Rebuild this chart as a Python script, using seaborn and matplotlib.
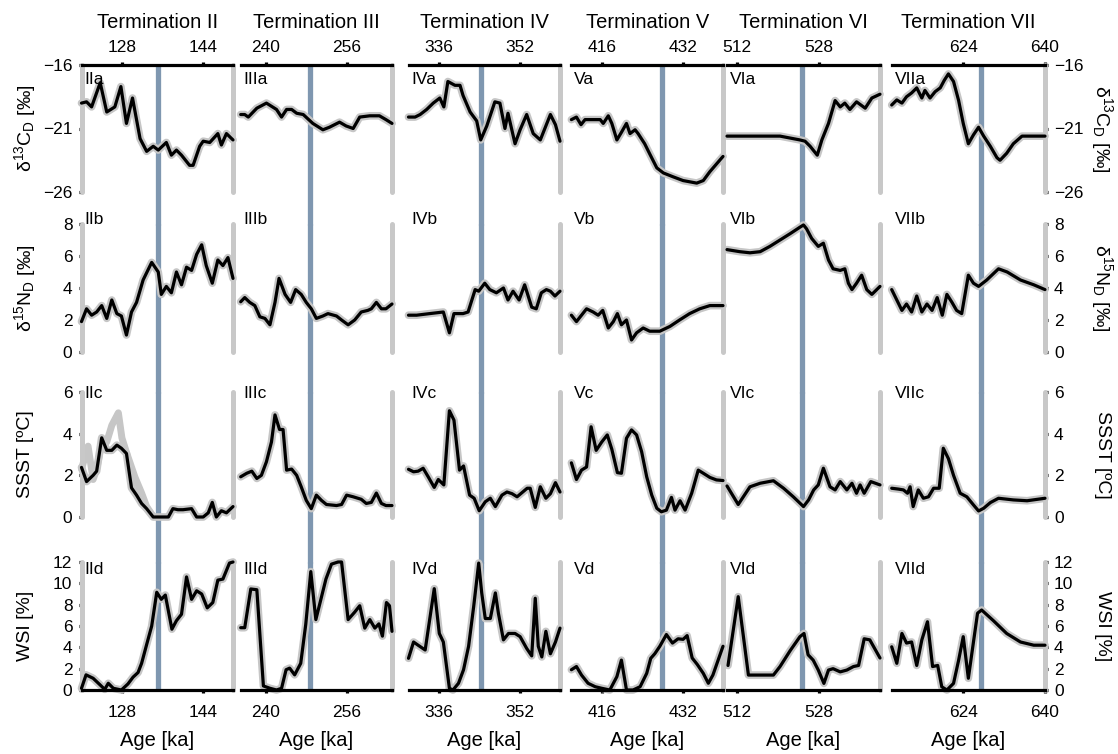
import numpy as np
import pandas as pd
import matplotlib
matplotlib.use("Agg")
import matplotlib.pyplot as plt
from matplotlib.ticker import MultipleLocator, FixedLocator
import seaborn as sns

sns.set_theme(style="white")
plt.rcParams["font.family"] = ["Liberation Sans", "DejaVu Sans"]
plt.rcParams["mathtext.default"] = "regular"
plt.rcParams.update({"text.color": "black", "axes.labelcolor": "black",
                     "xtick.color": "black", "ytick.color": "black"})

# ---------------- data ----------------
terminations = ["II", "III", "IV", "V", "VI", "VII"]
titles = ["Termination II", "Termination III", "Termination IV",
          "Termination V", "Termination VI", "Termination VII"]
age_ranges = [(120, 150), (235, 265), (330, 360), (410, 440), (510, 540), (610, 640)]
termination_ages = [135.2, 248.8, 344.3, 427.9, 524.8, 627.4]

variables = ["d13C", "d15N", "SSST", "WSI"]
letters = ["a", "b", "c", "d"]
y_limits = [(-26, -16), (0, 8), (0, 6), (0, 12)]
y_ticks = [[-26, -21, -16], [0, 2, 4, 6, 8], [0, 2, 4, 6], [0, 2, 4, 6, 8, 10, 12]]
y_labels = [r"$\delta^{13}C_{D}$ [‰]", r"$\delta^{15}N_{D}$ [‰]", "SSST [ºC]", "WSI [%]"]

# --- delta 13C (row a)
d13c_age_II = [120.0, 121.0, 122.0, 123.7, 125.0, 126.6, 127.8, 128.9, 130.1, 131.6, 132.9, 134.2, 135.2,
               136.8, 137.8, 138.8, 139.8, 141.4, 142.1, 143.4, 144.1, 145.4, 147.0, 147.7, 148.7, 150.0]
d13c_II = [-19.0, -18.9, -19.3, -17.4, -19.7, -19.3, -17.7, -20.6, -18.6, -21.8, -22.8, -22.4, -22.7,
           -22.1, -23.1, -22.7, -23.1, -23.9, -23.9, -22.4, -22.0, -22.1, -21.4, -22.3, -21.4, -21.9]
d13c_age_III = [235.0, 235.8, 236.5, 238.2, 240.1, 242.1, 243.1, 244.1, 245.1, 246.1, 247.4, 249.3, 251.3,
                252.6, 254.6, 255.9, 257.3, 258.6, 260.6, 262.5, 263.8, 265.0]
d13c_III = [-19.9, -19.9, -20.1, -19.4, -19.0, -19.5, -20.1, -19.5, -19.5, -19.8, -19.9, -20.6, -21.1,
            -20.9, -20.5, -20.8, -21.0, -20.1, -20.0, -20.0, -20.3, -20.6]
d13c_age_IV = [330.0, 331.3, 332.3, 333.6, 334.9, 336.2, 337.0, 337.8, 339.2, 340.2, 340.8, 342.2, 343.5,
               344.3, 345.5, 347.1, 348.1, 349.1, 349.7, 351.1, 352.1, 353.4, 354.7, 356.1, 358.1, 359.1, 360.0]
d13c_IV = [-20.1, -20.1, -19.9, -19.5, -19.0, -18.6, -19.3, -17.3, -17.6, -17.6, -18.4, -19.7, -20.4,
           -21.9, -20.8, -18.9, -19.0, -21.0, -19.8, -22.2, -21.1, -19.9, -21.4, -21.9, -19.9, -20.7, -22.0]
d13c_age_V = [410.0, 411.0, 411.9, 412.7, 414.3, 415.7, 416.3, 417.3, 418.0, 419.0, 419.9, 420.9, 421.6,
              422.6, 423.2, 424.5, 425.5, 426.9, 428.2, 430.1, 432.1, 434.8, 436.1, 437.4, 440.0]
d13c_V = [-20.3, -20.1, -20.7, -20.3, -20.3, -20.3, -20.6, -20.0, -20.6, -21.9, -21.3, -20.6, -21.4,
          -21.1, -21.4, -22.2, -23.0, -24.1, -24.5, -24.8, -25.1, -25.3, -25.1, -24.4, -23.2]
d13c_age_VI = [510.0, 512.5, 516.5, 520.4, 524.3, 525.3, 526.3, 527.7, 528.6, 529.2, 529.9, 531.2, 532.2,
               533.1, 534.1, 535.4, 537.1, 538.4, 540.0]
d13c_VI = [-21.6, -21.6, -21.6, -21.6, -21.9, -22.0, -22.4, -23.1, -21.9, -21.3, -20.6, -18.8, -19.3,
           -19.0, -19.5, -18.9, -19.4, -18.6, -18.3]
d13c_age_VII = [610.0, 611.0, 612.0, 612.9, 613.9, 614.9, 615.9, 616.5, 617.5, 618.5, 619.5, 620.3, 621.1,
                622.1, 623.1, 624.0, 625.0, 626.0, 627.0, 628.0, 629.3, 630.6, 631.2, 632.5, 633.8, 635.5,
                637.8, 640.0]
d13c_VII = [-19.15, -18.75, -19.0, -18.5, -18.2, -17.8, -18.6, -18.0, -18.6, -18.1, -17.8, -17.2, -16.7,
            -17.3, -18.8, -20.6, -22.2, -21.5, -20.9, -21.6, -22.4, -23.3, -23.5, -22.95, -22.2, -21.6,
            -21.6, -21.6]

# --- delta 15N (row b)
d15n_age_II = [120.0, 121.0, 122.0, 123.0, 124.0, 125.0, 126.0, 127.0, 127.9, 128.9, 129.9, 130.9, 132.2,
               133.9, 135.2, 135.8, 136.8, 137.8, 138.8, 139.8, 140.8, 141.8, 142.8, 143.8, 144.7, 145.9,
               147.0, 148.0, 149.0, 150.0]
d15n_II = [1.9, 2.7, 2.3, 2.5, 2.9, 2.1, 3.25, 2.4, 2.25, 1.06, 2.5, 3.1, 4.5, 5.6, 5.0, 3.6, 4.1, 3.7,
           5.0, 4.2, 5.3, 5.1, 6.1, 6.7, 5.4, 4.3, 5.75, 5.4, 5.9, 4.6]
d15n_age_III = [235.0, 235.8, 236.8, 237.8, 238.8, 239.8, 240.8, 241.8, 242.6, 243.8, 244.9, 245.9, 247.0,
                248.0, 249.0, 250.0, 251.3, 252.3, 254.0, 255.0, 256.3, 257.6, 258.9, 260.2, 260.9, 261.9,
                262.9, 263.8, 265.0]
d15n_III = [3.14, 3.4, 3.1, 2.9, 2.2, 2.1, 1.7, 3.1, 4.6, 3.6, 3.1, 3.9, 3.6, 3.1, 2.7, 2.1, 2.25, 2.4,
            2.25, 2.0, 1.7, 2.0, 2.5, 2.6, 2.7, 3.1, 2.7, 2.7, 3.0]
d15n_age_IV = [330.0, 331.6, 334.2, 336.9, 338.1, 339.0, 340.8, 341.8, 343.2, 343.9, 345.1, 346.1, 347.4,
               348.8, 349.7, 350.7, 351.9, 353.0, 354.4, 355.3, 356.3, 357.3, 358.1, 359.0, 360.0]
d15n_IV = [2.3, 2.3, 2.4, 2.5, 1.2, 2.4, 2.4, 2.5, 3.9, 3.8, 4.3, 3.9, 3.7, 4.0, 3.25, 3.8, 3.25, 4.2,
           2.8, 2.7, 3.7, 3.9, 3.8, 3.5, 3.8]
d15n_age_V = [410.0, 411.0, 413.0, 414.3, 415.3, 416.2, 417.3, 418.3, 419.1, 419.9, 420.9, 421.9, 422.9,
              424.2, 425.5, 427.5, 429.5, 431.4, 433.4, 435.4, 437.4, 440.0]
d15n_V = [2.3, 1.9, 2.7, 2.5, 2.3, 2.6, 1.5, 1.9, 2.4, 1.7, 2.0, 0.75, 1.2, 1.5, 1.3, 1.3, 1.6, 2.0,
          2.4, 2.7, 2.9, 2.9]
d15n_age_VI = [510.0, 512.5, 514.5, 516.5, 518.4, 520.4, 522.4, 524.3, 525.0, 525.6, 526.6, 527.9, 528.9,
               529.9, 530.8, 532.2, 533.1, 533.8, 534.5, 535.4, 536.4, 537.4, 538.4, 540.0]
d15n_VI = [6.4, 6.27, 6.2, 6.27, 6.6, 7.0, 7.4, 7.8, 7.94, 7.7, 7.1, 6.6, 6.8, 5.75, 5.2, 5.1, 5.2, 4.3,
           3.9, 4.3, 4.8, 3.9, 3.6, 4.1]
d15n_age_VII = [610.0, 611.0, 612.0, 612.9, 613.9, 614.9, 615.9, 616.9, 617.9, 618.9, 619.9, 620.8, 621.8,
                622.7, 623.7, 625.0, 626.0, 627.0, 628.6, 630.9, 632.6, 635.2, 637.8, 640.0]
d15n_VII = [3.9, 3.25, 2.6, 3.0, 2.5, 3.5, 2.5, 3.0, 2.6, 3.4, 2.3, 3.6, 3.1, 2.6, 2.4, 4.8, 4.3, 4.1,
            4.5, 5.2, 5.0, 4.5, 4.2, 3.9]

# --- SSST (row c)
ssst_age_II = [120.0, 121.0, 122.3, 123.0, 124.0, 125.0, 126.0, 127.0, 127.9, 128.9, 129.9, 130.9, 131.9,
               132.9, 134.2, 136.2, 137.2, 138.1, 139.1, 140.1, 141.8, 142.8, 144.1, 145.1, 145.9, 146.7,
               147.7, 148.7, 150.0]
ssst_II = [2.38, 1.7, 2.0, 2.2, 3.8, 3.2, 3.2, 3.45, 3.3, 3.05, 1.4, 1.05, 0.65, 0.4, 0.0, 0.0, 0.0, 0.4,
           0.35, 0.35, 0.4, 0.0, 0.0, 0.2, 0.7, 0.0, 0.3, 0.2, 0.5]
ssst_age_III = [235.0, 236.2, 237.2, 238.2, 239.1, 240.1, 241.1, 241.8, 242.7, 243.4, 244.1, 245.1, 246.1,
                247.0, 248.0, 249.0, 250.0, 251.0, 252.0, 254.0, 255.0, 256.0, 257.3, 258.9, 259.9, 260.9,
                261.9, 262.9, 263.8, 265.0]
ssst_III = [1.93, 2.1, 2.2, 1.85, 2.0, 2.65, 3.6, 4.9, 4.2, 4.2, 2.25, 2.3, 2.0, 1.45, 0.8, 0.4, 1.05,
            0.8, 0.6, 0.55, 0.6, 1.05, 0.97, 0.85, 0.65, 0.7, 1.15, 0.65, 0.55, 0.55]
ssst_age_IV = [330.0, 331.0, 331.9, 332.9, 333.9, 335.1, 335.9, 337.0, 338.1, 339.0, 340.1, 340.9, 342.1,
               343.0, 344.0, 345.2, 346.2, 347.2, 348.5, 349.5, 350.5, 351.5, 353.5, 354.1, 355.1, 356.1,
               357.2, 358.1, 359.1, 360.0]
ssst_IV = [2.29, 2.17, 2.2, 2.34, 1.93, 1.42, 1.8, 1.54, 5.1, 4.65, 2.25, 2.45, 1.05, 0.9, 0.3, 0.73,
           0.9, 0.5, 1.05, 1.2, 1.12, 0.97, 1.38, 1.38, 0.46, 1.45, 0.9, 1.12, 1.65, 1.2]
ssst_age_V = [410.0, 411.0, 412.0, 413.0, 413.9, 414.9, 416.0, 417.1, 418.0, 419.1, 419.9, 420.9, 421.9,
              422.9, 423.9, 424.9, 425.9, 426.9, 427.8, 428.8, 429.8, 430.5, 431.5, 432.5, 433.8, 435.1,
              436.1, 437.4, 438.7, 440.0]
ssst_V = [2.6, 1.8, 2.25, 2.4, 4.33, 3.2, 3.6, 3.94, 3.25, 2.13, 2.1, 3.78, 4.18, 3.94, 3.13, 1.93, 1.05,
          0.42, 0.25, 0.33, 0.94, 0.33, 0.78, 0.33, 1.14, 2.25, 2.1, 1.9, 1.78, 1.75]
ssst_age_VI = [510.0, 512.2, 514.5, 516.5, 519.1, 521.1, 523.0, 525.0, 526.0, 527.0, 527.9, 528.9, 530.2,
               531.2, 532.2, 533.5, 534.5, 535.4, 536.1, 536.9, 538.2, 540.0]
ssst_VI = [1.49, 0.6, 1.45, 1.62, 1.74, 1.38, 0.97, 0.5, 0.82, 1.3, 1.54, 2.34, 1.45, 1.3, 1.7, 1.3,
           1.62, 1.14, 1.54, 1.14, 1.7, 1.54]
ssst_age_VII = [610.0, 611.3, 612.3, 613.1, 613.6, 614.2, 615.2, 616.2, 617.2, 618.2, 619.3, 620.1, 621.1,
                622.1, 623.4, 624.7, 626.0, 627.0, 628.0, 629.3, 630.9, 633.8, 636.5, 640.0]
ssst_VII = [1.38, 1.34, 1.3, 1.14, 1.45, 0.5, 1.3, 0.9, 0.97, 1.38, 1.38, 3.3, 2.8, 2.0, 1.14, 0.97, 0.58,
            0.29, 0.42, 0.69, 0.9, 0.82, 0.78, 0.9]
# high-resolution (grey) SSST record of Termination II where it departs from the smoothed line
ssst_grey_age_II = [120.0, 121.3, 122.3, 123.0, 124.0, 125.0, 126.0, 127.3, 128.0, 128.9, 130.6, 131.9,
                    132.9, 134.0]
ssst_grey_II = [2.3, 3.4, 1.8, 2.3, 3.5, 3.6, 4.4, 5.0, 3.8, 3.1, 1.9, 1.15, 0.5, 0.1]

# --- WSI (row d)
wsi_age_II = [120.0, 120.9, 122.3, 123.7, 124.6, 125.3, 126.3, 127.9, 129.2, 130.2, 131.2, 131.9, 132.9,
              133.9, 134.9, 135.8, 136.6, 137.9, 138.8, 139.8, 140.8, 141.8, 142.8, 143.8, 144.9, 146.0,
              147.0, 148.0, 149.3, 150.0]
wsi_II = [0.16, 1.42, 1.1, 0.47, 0.06, 0.63, 0.16, 0.0, 0.57, 1.2, 1.64, 2.5, 4.26, 6.0, 9.16, 8.5, 8.9,
          5.7, 6.5, 7.1, 10.6, 8.5, 9.3, 9.0, 7.7, 8.2, 10.3, 10.4, 11.9, 12.0]
wsi_age_III = [235.0, 235.8, 237.0, 238.2, 239.5, 240.8, 242.1, 243.1, 244.0, 244.7, 245.7, 246.9, 247.9,
               248.9, 249.9, 250.9, 251.9, 253.0, 254.3, 255.0, 256.3, 257.6, 258.6, 259.6, 260.6, 261.6,
               262.4, 263.1, 263.9, 264.5, 265.0]
wsi_III = [5.84, 5.84, 9.47, 9.4, 0.38, 0.16, 0.0, 0.16, 1.9, 2.05, 1.42, 2.5, 6.16, 11.1, 6.6, 8.5,
           10.4, 11.8, 12.0, 12.0, 6.6, 7.3, 7.9, 5.8, 6.6, 5.8, 6.2, 5.05, 8.2, 7.9, 5.5]
wsi_age_IV = [330.0, 331.0, 331.9, 333.3, 335.1, 336.1, 336.9, 338.1, 338.8, 339.9, 340.9, 341.9, 342.9,
              343.9, 344.5, 345.2, 346.2, 347.2, 347.8, 348.8, 349.8, 351.1, 352.1, 353.4, 354.4, 355.1,
              355.7, 356.4, 357.2, 358.1, 359.1, 360.0]
wsi_IV = [2.97, 4.5, 4.2, 3.75, 9.5, 5.3, 4.5, 0.16, 0.0, 0.63, 1.9, 4.1, 7.8, 11.9, 9.1, 6.7, 6.7, 9.1,
          7.2, 4.7, 5.3, 5.3, 5.0, 3.9, 3.2, 8.6, 4.1, 3.1, 5.5, 3.4, 4.5, 5.8]
wsi_age_V = [410.0, 411.0, 412.0, 413.3, 414.7, 416.0, 417.6, 419.0, 419.9, 420.9, 422.2, 423.6, 424.9,
             425.7, 426.5, 427.5, 428.8, 430.0, 431.1, 432.1, 432.9, 433.9, 434.9, 436.1, 437.1, 438.0, 440.0]
wsi_V = [1.9, 2.2, 1.4, 0.63, 0.31, 0.16, 0.0, 1.25, 2.8, 0.0, 0.0, 0.31, 1.56, 2.97, 3.4, 4.1, 5.2, 4.4,
         4.8, 4.75, 5.1, 3.0, 2.4, 1.56, 0.63, 1.4, 4.1]
wsi_age_VI = [510.2, 512.2, 514.2, 519.1, 520.4, 522.4, 524.3, 525.1, 525.9, 526.9, 527.9, 529.0, 529.9,
              530.8, 532.2, 533.5, 534.8, 535.8, 536.9, 538.0, 540.0]
wsi_VI = [2.3, 8.75, 1.4, 1.4, 2.2, 3.7, 5.0, 5.3, 3.3, 2.8, 1.87, 0.62, 1.87, 2.0, 1.7, 1.87, 2.2, 2.3,
          4.8, 4.7, 3.0]
wsi_age_VII = [610.0, 611.0, 612.0, 612.9, 613.9, 614.9, 615.9, 617.0, 618.0, 619.0, 619.8, 620.8, 622.1,
               623.1, 624.0, 625.0, 626.0, 626.8, 627.6, 629.9, 632.5, 635.2, 637.8, 640.0]
wsi_VII = [4.05, 2.5, 5.3, 4.4, 4.5, 2.3, 4.7, 6.4, 2.2, 2.3, 0.3, 0.0, 0.62, 2.8, 5.0, 1.1, 4.5, 7.2,
           7.5, 6.5, 5.3, 4.5, 4.2, 4.2]

series = {
    ("d13C", "II"): (d13c_age_II, d13c_II), ("d13C", "III"): (d13c_age_III, d13c_III),
    ("d13C", "IV"): (d13c_age_IV, d13c_IV), ("d13C", "V"): (d13c_age_V, d13c_V),
    ("d13C", "VI"): (d13c_age_VI, d13c_VI), ("d13C", "VII"): (d13c_age_VII, d13c_VII),
    ("d15N", "II"): (d15n_age_II, d15n_II), ("d15N", "III"): (d15n_age_III, d15n_III),
    ("d15N", "IV"): (d15n_age_IV, d15n_IV), ("d15N", "V"): (d15n_age_V, d15n_V),
    ("d15N", "VI"): (d15n_age_VI, d15n_VI), ("d15N", "VII"): (d15n_age_VII, d15n_VII),
    ("SSST", "II"): (ssst_age_II, ssst_II), ("SSST", "III"): (ssst_age_III, ssst_III),
    ("SSST", "IV"): (ssst_age_IV, ssst_IV), ("SSST", "V"): (ssst_age_V, ssst_V),
    ("SSST", "VI"): (ssst_age_VI, ssst_VI), ("SSST", "VII"): (ssst_age_VII, ssst_VII),
    ("WSI", "II"): (wsi_age_II, wsi_II), ("WSI", "III"): (wsi_age_III, wsi_III),
    ("WSI", "IV"): (wsi_age_IV, wsi_IV), ("WSI", "V"): (wsi_age_V, wsi_V),
    ("WSI", "VI"): (wsi_age_VI, wsi_VI), ("WSI", "VII"): (wsi_age_VII, wsi_VII),
}
grey_series = {("SSST", "II"): (ssst_grey_age_II, ssst_grey_II)}

records = []
for (var, term), (ages, vals) in series.items():
    for a, v in zip(ages, vals):
        records.append((var, term, a, v))
df = pd.DataFrame(records, columns=["variable", "termination", "age", "value"])

grey_records = []
for (var, term), (ages, vals) in grey_series.items():
    for a, v in zip(ages, vals):
        grey_records.append((var, term, a, v))
df_grey = pd.DataFrame(grey_records, columns=["variable", "termination", "age", "value"])

# ---------------- layout / style ----------------
W, H = 1118, 754
col_px = [(81.5, 233), (240.7, 392), (408.5, 560), (571.4, 723), (727, 880), (891.7, 1045)]
row_px = [(65, 192), (224, 352), (392, 517), (562, 690)]
label_off = [15, -5, 2, 7]  # panel label centre offset below the axis top (px)

BLUE = "#7f97b0"
GREY_AX = "#c8c8c8"
HALO = "#c6c6c6"
TICK_FS = 12.5
LAB_FS = 14
fig = plt.figure(figsize=(W / 100, H / 100), dpi=100)

for r, var in enumerate(variables):
    y0, y1 = row_px[r]
    h = y1 - y0
    for c, term in enumerate(terminations):
        x0, x1 = col_px[c]
        w = x1 - x0
        ax = fig.add_axes([x0 / W, 1 - y1 / H, w / W, h / H])
        ax.set_facecolor("none")
        ax.set_xlim(*age_ranges[c])
        ax.set_ylim(*y_limits[r])

        # termination marker extending across the gaps between rows
        if r < 3:
            gap = row_px[r + 1][0] - y1
            ymin = -gap / h - 0.01
        else:
            ymin = 0
        ax.axvline(termination_ages[c], ymin=ymin, ymax=1, color=BLUE, lw=3.8,
                   clip_on=False, zorder=1, solid_capstyle="butt")

        gsub = df_grey[(df_grey.variable == var) & (df_grey.termination == term)]
        if len(gsub):
            sns.lineplot(data=gsub, x="age", y="value", ax=ax, color=HALO, lw=5,
                         estimator=None, sort=False, zorder=2, clip_on=False)
        sub = df[(df.variable == var) & (df.termination == term)]
        sns.lineplot(data=sub, x="age", y="value", ax=ax, color=HALO, lw=5.5,
                     estimator=None, sort=False, zorder=2, clip_on=False)
        sns.lineplot(data=sub, x="age", y="value", ax=ax, color="black", lw=2.3,
                     estimator=None, sort=False, zorder=3, clip_on=False)

        # spines
        for s in ax.spines.values():
            s.set_visible(False)
        ax.spines["right"].set_visible(True)
        ax.spines["right"].set_color(GREY_AX)
        ax.spines["right"].set_linewidth(3.6)
        ax.spines["right"].set_capstyle("round")
        if c == 0:
            ax.spines["left"].set_visible(True)
            ax.spines["left"].set_color(GREY_AX)
            ax.spines["left"].set_linewidth(3.6)
            ax.spines["left"].set_capstyle("round")
        if r == 0:
            ax.spines["top"].set_visible(True)
            ax.spines["top"].set_color("black")
            ax.spines["top"].set_linewidth(2.3)
            ax.spines["top"].set_zorder(5)
        if r == 3:
            ax.spines["bottom"].set_visible(True)
            ax.spines["bottom"].set_color("black")
            ax.spines["bottom"].set_linewidth(2.3)
            ax.spines["bottom"].set_zorder(5)

        # x ticks
        ax.xaxis.set_major_locator(MultipleLocator(16))
        if r == 0:
            ax.tick_params(axis="x", bottom=False, labelbottom=False, top=True, labeltop=True,
                           length=2.5, width=2.3, color="black", pad=5, labelsize=TICK_FS,
                           direction="out", labelcolor="black")
            ax.text(0.5, 1 + (y0 - 28.5) / h, titles[c], transform=ax.transAxes,
                    ha="center", va="baseline", fontsize=14.5, color="black")
        elif r == 3:
            ax.tick_params(axis="x", bottom=True, labelbottom=True, top=False, labeltop=False,
                           length=2.5, width=2.3, color="black", pad=8, labelsize=TICK_FS,
                           direction="out", labelcolor="black")
            ax.text(0.5, -(746.5 - y1) / h, "Age [ka]", transform=ax.transAxes,
                    ha="center", va="baseline", fontsize=14.5, color="black")
        else:
            ax.tick_params(axis="x", bottom=False, labelbottom=False, top=False, labeltop=False)
        ax.set_xlabel("")

        # y ticks
        ax.yaxis.set_major_locator(FixedLocator(y_ticks[r]))
        if c == 0:
            ax.tick_params(axis="y", left=True, labelleft=True, right=False, labelright=False,
                           length=2.5, width=2.3, color="black", pad=4, labelsize=TICK_FS,
                           direction="out", labelcolor="black")
            ax.set_ylabel(y_labels[r], fontsize=LAB_FS, va="center", color="black")
            ax.yaxis.set_label_coords((25 - x0) / w, 0.5)
        elif c == 5:
            ax.yaxis.set_label_position("right")
            ax.tick_params(axis="y", left=False, labelleft=False, right=True, labelright=True,
                           length=2.5, width=2.3, color="black", pad=4, labelsize=TICK_FS,
                           direction="out", labelcolor="black")
            ax.set_ylabel(y_labels[r], fontsize=LAB_FS, rotation=270, va="center", color="black")
            ax.yaxis.set_label_coords((1102 - x0) / w, 0.5)
        else:
            ax.tick_params(axis="y", left=False, labelleft=False, right=False, labelright=False)
            ax.set_ylabel("")

        # panel label
        ax.text(3 / w, 1 - label_off[r] / h, term + letters[r], transform=ax.transAxes,
                ha="left", va="center", fontsize=12.5, zorder=6, color="black")

fig.savefig("out.png", dpi=100)
